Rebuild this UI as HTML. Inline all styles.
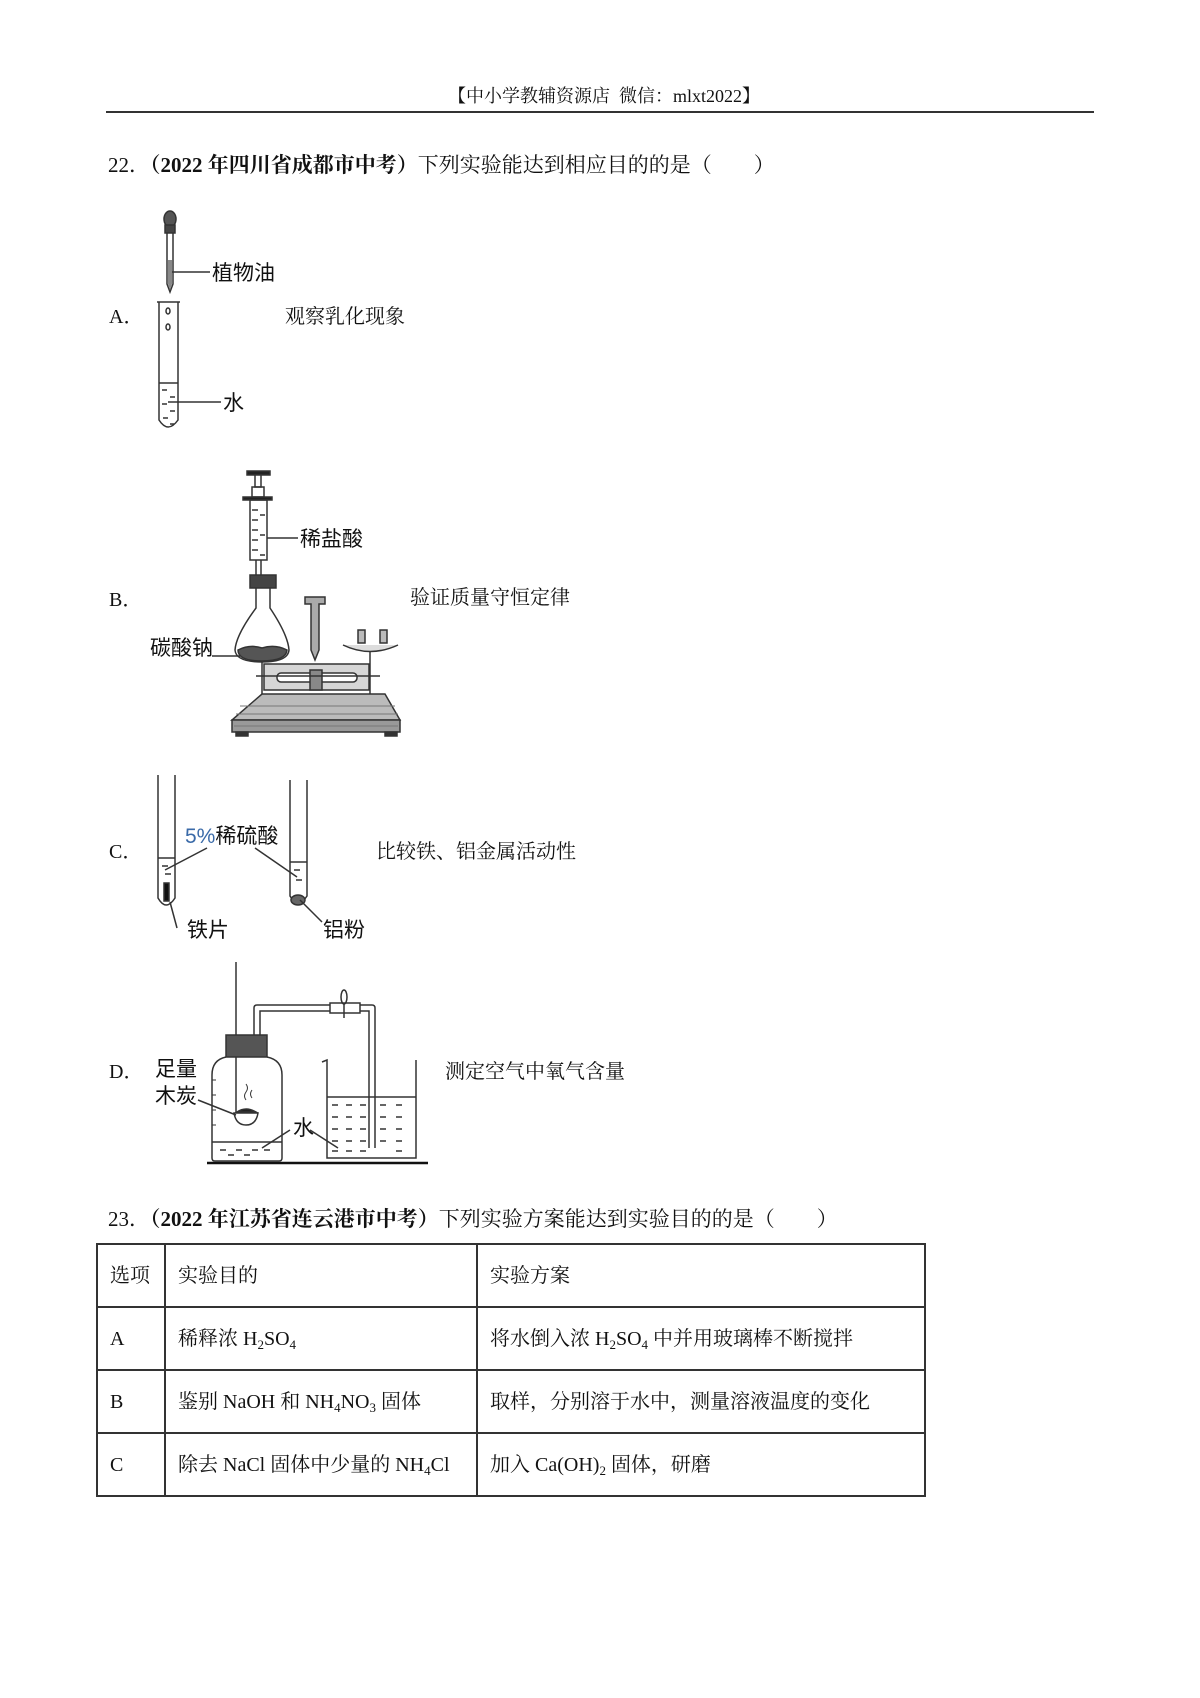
<!DOCTYPE html>
<html><head><meta charset="utf-8"><style>
html,body{margin:0;padding:0;background:#fff;}
body{width:1200px;height:1698px;position:relative;overflow:hidden;}
.t{position:absolute;white-space:nowrap;font-family:"Liberation Serif","Noto Serif CJK SC",serif;font-size:20px;color:#111;line-height:1;}
.q{font-size:21px;}
.b{font-weight:bold;}
table{position:absolute;left:96px;top:1243px;border-collapse:collapse;font-family:"Liberation Serif","Noto Serif CJK SC",serif;font-size:20px;color:#111;}
td{border:2px solid #333;height:61px;padding:0 0 0 12px;vertical-align:middle;white-space:nowrap;line-height:24px;}
sub{font-size:13px;vertical-align:-4px;line-height:0;}
</style></head><body>
<div class="t" style="left:448px;top:87px;font-size:18px;">【中小学教辅资源店&nbsp; 微信：mlxt2022】</div>
<div style="position:absolute;left:106px;top:111px;width:988px;height:2px;background:#333;"></div>

<div class="t q" style="left:108px;top:155px;">22．<span class="b">（2022 年四川省成都市中考）</span>下列实验能达到相应目的的是（　　）</div>

<div class="t" style="left:109px;top:307px;">A．</div>
<div class="t" style="left:285px;top:307px;">观察乳化现象</div>
<div class="t" style="left:109px;top:590px;">B．</div>
<div class="t" style="left:410px;top:588px;">验证质量守恒定律</div>
<div class="t" style="left:109px;top:842px;">C．</div>
<div class="t" style="left:376px;top:842px;">比较铁、铝金属活动性</div>
<div class="t" style="left:109px;top:1062px;">D．</div>
<div class="t" style="left:445px;top:1062px;">测定空气中氧气含量</div>

<svg style="position:absolute;left:0;top:0" width="1200" height="1698" font-family="'Liberation Sans','Noto Sans CJK SC',sans-serif" font-size="21" fill="#111">
<g stroke="#333" stroke-width="1.5" fill="none">
<ellipse cx="170" cy="219" rx="6" ry="8" fill="#555"/>
<rect x="165" y="225" width="10" height="8" fill="#444"/>
<path d="M167 233 V284 L170 292 L173 284 V233"/>
<path d="M168 260 V284 L170 290 L172 284 V260" fill="#888" stroke="none"/>
<line x1="172" y1="272" x2="210" y2="272"/>
<path d="M157 302 H180 M159 302 V420 Q168 434 178 420 V302"/>
<line x1="159" y1="383" x2="178" y2="383"/>
<g stroke-width="1.5"><line x1="162" y1="390" x2="167" y2="390"/><line x1="170" y1="397" x2="175" y2="397"/><line x1="162" y1="404" x2="167" y2="404"/><line x1="170" y1="411" x2="175" y2="411"/><line x1="163" y1="418" x2="168" y2="418"/><line x1="170" y1="424" x2="174" y2="424"/></g>
<ellipse cx="168" cy="311" rx="2" ry="3"/><ellipse cx="168" cy="327" rx="2" ry="3"/>
<line x1="168" y1="402" x2="221" y2="402"/>

<rect x="247" y="471" width="23" height="4" fill="#222"/>
<rect x="255" y="475" width="6" height="12" fill="#fff"/>
<rect x="252" y="487" width="12" height="10"/>
<rect x="243" y="497" width="29" height="3" fill="#222"/>
<rect x="250" y="500" width="17" height="60"/>
<g><line x1="252" y1="510" x2="258" y2="510"/><line x1="252" y1="520" x2="258" y2="520"/><line x1="252" y1="530" x2="258" y2="530"/><line x1="252" y1="540" x2="258" y2="540"/><line x1="252" y1="550" x2="258" y2="550"/><line x1="260" y1="515" x2="265" y2="515"/><line x1="260" y1="535" x2="265" y2="535"/><line x1="260" y1="555" x2="265" y2="555"/></g>
<line x1="256" y1="560" x2="256" y2="575"/><line x1="261" y1="560" x2="261" y2="575"/>
<line x1="267" y1="538" x2="298" y2="538"/>
<rect x="250" y="575" width="26" height="13" fill="#444"/>
<path d="M256 588 V608 Q236 635 235 650 Q236 662 262 662 Q288 662 289 650 Q288 635 270 608 V588"/>
<path d="M238 650 Q250 644 262 648 Q275 644 287 650 Q286 661 262 661 Q238 661 238 650Z" fill="#555"/>
<line x1="212" y1="656" x2="240" y2="656"/>
<path d="M305 597 H325 V604 H319 V650 L315 660 L311 650 V604 H305Z" fill="#aaa"/>
<path d="M343 645 Q370 658 398 645" fill="#ddd"/>
<rect x="358" y="630" width="7" height="13" fill="#bbb"/>
<rect x="380" y="630" width="7" height="13" fill="#bbb"/>
<line x1="262" y1="662" x2="262" y2="694"/><line x1="370" y1="652" x2="370" y2="694"/>
<rect x="264" y="664" width="105" height="26" fill="#d6d6d6"/>
<rect x="277" y="673" width="80" height="9" rx="4" fill="#fff"/>
<rect x="310" y="670" width="12" height="20" fill="#888"/>
<line x1="256" y1="676" x2="380" y2="676"/>
<path d="M262 694 H385 L400 720 H232Z" fill="#bbb"/>
<rect x="232" y="720" width="168" height="12" fill="#999"/>
<rect x="236" y="732" width="12" height="4" fill="#333"/><rect x="385" y="732" width="12" height="4" fill="#333"/>
<g stroke="#777" stroke-width="1"><line x1="240" y1="706" x2="395" y2="706"/><line x1="236" y1="714" x2="398" y2="714"/><line x1="234" y1="726" x2="398" y2="726"/></g>

<path d="M158 775 V898 Q166 912 175 898 V775"/>
<line x1="158" y1="858" x2="175" y2="858"/>
<rect x="164" y="883" width="5" height="18" fill="#111"/>
<line x1="162" y1="866" x2="168" y2="866"/><line x1="165" y1="874" x2="171" y2="874"/>
<path d="M290 780 V896 Q298 910 307 896 V780"/>
<line x1="290" y1="862" x2="307" y2="862"/>
<line x1="294" y1="870" x2="300" y2="870"/><line x1="296" y1="880" x2="302" y2="880"/>
<ellipse cx="298" cy="900" rx="7" ry="5" fill="#666"/>
<line x1="207" y1="848" x2="165" y2="870"/>
<line x1="255" y1="848" x2="297" y2="877"/>
<line x1="170" y1="902" x2="177" y2="928"/>
<line x1="300" y1="900" x2="322" y2="922"/>

<line x1="236" y1="962" x2="236" y2="1113"/>
<path d="M254 1037 V1008 Q254 1005 257 1005 H372 Q375 1005 375 1008 V1148"/>
<path d="M260 1037 V1011 H369 V1148"/>
<rect x="330" y="1003" width="30" height="10" fill="#fff"/>
<ellipse cx="344" cy="997" rx="3" ry="7"/><line x1="344" y1="1003" x2="344" y2="1018"/>
<rect x="226" y="1035" width="41" height="22" fill="#555"/>
<path d="M226 1057 Q212 1060 212 1075 V1158 Q212 1161 215 1161 H279 Q282 1161 282 1158 V1075 Q282 1060 267 1057"/>
<line x1="212" y1="1142" x2="282" y2="1142"/>
<g><line x1="220" y1="1150" x2="226" y2="1150"/><line x1="236" y1="1150" x2="242" y2="1150"/><line x1="252" y1="1150" x2="258" y2="1150"/><line x1="228" y1="1155" x2="234" y2="1155"/><line x1="244" y1="1155" x2="250" y2="1155"/><line x1="264" y1="1150" x2="270" y2="1150"/></g>
<g stroke-width="1"><line x1="212" y1="1080" x2="216" y2="1080"/><line x1="212" y1="1095" x2="216" y2="1095"/><line x1="212" y1="1110" x2="216" y2="1110"/><line x1="212" y1="1125" x2="216" y2="1125"/></g>
<path d="M234 1113 H258 Q256 1125 246 1125 Q236 1125 234 1113Z" fill="#fff"/>
<path d="M237 1112 Q246 1106 256 1112Z" fill="#222"/>
<path d="M246 1100 q-3 -4 0 -8 q3 -4 0 -8 M252 1098 q-3 -4 0 -8" stroke-width="1"/>
<line x1="198" y1="1100" x2="236" y2="1115"/>
<path d="M322 1062 L327 1060 V1158 H416 V1060"/>
<line x1="327" y1="1097" x2="416" y2="1097"/>
<g>
<line x1="332" y1="1105" x2="338" y2="1105"/><line x1="346" y1="1105" x2="352" y2="1105"/><line x1="360" y1="1105" x2="366" y2="1105"/><line x1="380" y1="1105" x2="386" y2="1105"/><line x1="396" y1="1105" x2="402" y2="1105"/>
<line x1="332" y1="1117" x2="338" y2="1117"/><line x1="346" y1="1117" x2="352" y2="1117"/><line x1="360" y1="1117" x2="366" y2="1117"/><line x1="380" y1="1117" x2="386" y2="1117"/><line x1="396" y1="1117" x2="402" y2="1117"/>
<line x1="332" y1="1129" x2="338" y2="1129"/><line x1="346" y1="1129" x2="352" y2="1129"/><line x1="360" y1="1129" x2="366" y2="1129"/><line x1="380" y1="1129" x2="386" y2="1129"/><line x1="396" y1="1129" x2="402" y2="1129"/>
<line x1="332" y1="1141" x2="338" y2="1141"/><line x1="346" y1="1141" x2="352" y2="1141"/><line x1="360" y1="1141" x2="366" y2="1141"/><line x1="380" y1="1141" x2="386" y2="1141"/><line x1="396" y1="1141" x2="402" y2="1141"/>
<line x1="332" y1="1151" x2="338" y2="1151"/><line x1="346" y1="1151" x2="352" y2="1151"/><line x1="360" y1="1151" x2="366" y2="1151"/><line x1="396" y1="1151" x2="402" y2="1151"/>
</g>
<line x1="290" y1="1130" x2="262" y2="1148"/>
<line x1="310" y1="1130" x2="338" y2="1148"/>
<line x1="207" y1="1163" x2="428" y2="1163" stroke="#111" stroke-width="2.5"/>
</g>
<text x="212" y="280">植物油</text>
<text x="223" y="410">水</text>
<text x="300" y="546">稀盐酸</text>
<text x="150" y="655">碳酸钠</text>
<text x="185" y="843"><tspan fill="#3a6aa8">5%</tspan>稀硫酸</text>
<text x="187" y="937">铁片</text>
<text x="323" y="937">铝粉</text>
<text x="155" y="1076">足量</text>
<text x="155" y="1103">木炭</text>
<text x="293" y="1135">水</text>
</svg>

<div class="t q" style="left:108px;top:1209px;">23．<span class="b">（2022 年江苏省连云港市中考）</span>下列实验方案能达到实验目的的是（　　）</div>
<table>
<tr><td style="width:54px">选项</td><td style="width:298px">实验目的</td><td style="width:434px">实验方案</td></tr>
<tr><td>A</td><td>稀释浓 H<sub>2</sub>SO<sub>4</sub></td><td>将水倒入浓 H<sub>2</sub>SO<sub>4</sub> 中并用玻璃棒不断搅拌</td></tr>
<tr><td>B</td><td>鉴别 NaOH 和 NH<sub>4</sub>NO<sub>3</sub> 固体</td><td>取样，分别溶于水中，测量溶液温度的变化</td></tr>
<tr><td>C</td><td>除去 NaCl 固体中少量的 NH<sub>4</sub>Cl</td><td>加入 Ca(OH)<sub>2</sub> 固体，研磨</td></tr>
</table>
</body></html>
